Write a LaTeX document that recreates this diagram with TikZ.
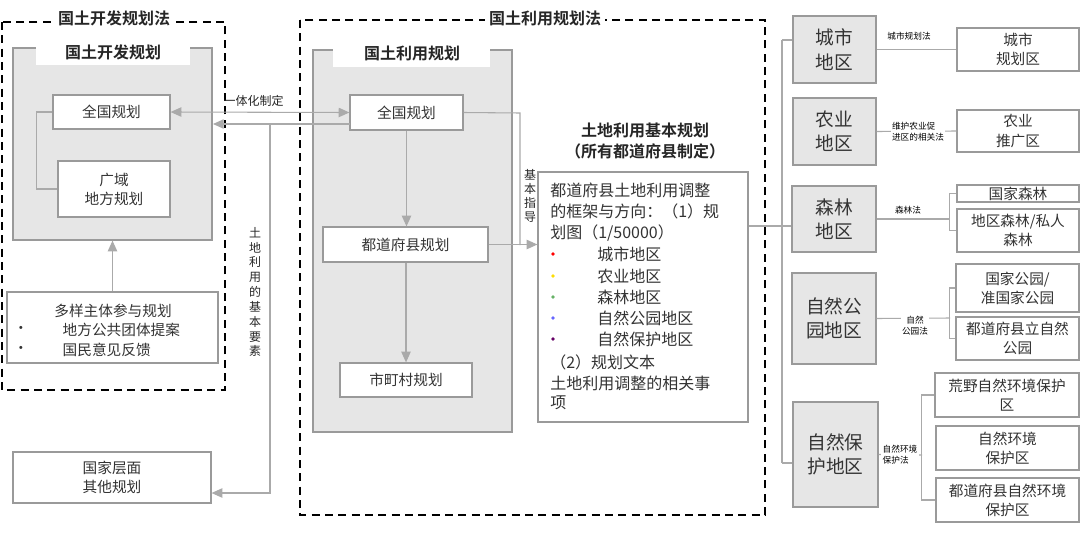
\documentclass[tikz,border=0pt]{standalone}
\usepackage{fontspec}
\setmainfont{Noto Sans CJK SC}
\newfontfamily\cjkb{Noto Sans CJK SC Bold}
\usetikzlibrary{arrows.meta}
\newcommand{\fsz}[1]{\fontsize{#1pt}{\the\dimexpr #1pt*13/10\relax}\selectfont}
\definecolor{lgray}{HTML}{E6E6E6}
\definecolor{lnc}{HTML}{AAAAAA}
\definecolor{bdc}{HTML}{9A9A9A}
\definecolor{txc}{HTML}{333333}
\begin{document}
\begin{tikzpicture}[x=0.75pt,y=-0.75pt,
  wbox/.style={draw=bdc, fill=white, line width=0.9pt, align=center, text=txc, inner sep=0pt, font=\fsz{11}},
  gbox/.style={draw=bdc, fill=lgray, line width=0.9pt, align=center, text=txc, inner sep=0pt},
  rgbox/.style={gbox, font=\fsz{14}},
  conn/.style={draw=lnc, line width=0.8pt},
  arr/.style={conn, -{Triangle[length=8pt,width=7pt,fill=lnc]}},
  dashbox/.style={draw=black, line width=1.6pt, dash pattern=on 6pt off 4pt},
  ttl/.style={fill=white, font=\cjkb\fsz{12}, text=black!85, inner sep=3pt},
  small/.style={font=\fsz{6.5}, text=black, align=left, inner sep=1pt},
  lbl/.style={font=\fsz{9}, text=black!85, inner sep=1pt},
  btxt/.style={anchor=west, text=txc, font=\fsz{12}, inner sep=0}]
\useasboundingbox (0,0) rectangle (1080,539);
\fill[white] (0,0) rectangle (1080,539);
% dashed frames
\draw[dashbox] (2,22) rectangle (225,390);
\draw[dashbox] (300,20) rectangle (765,515);
\node[ttl] (tleft) at (114,18) {国土开发规划法};
\node[ttl] (tright) at (545,18) {国土利用规划法};
% left gray box
\node[gbox, minimum width=199*0.75pt, minimum height=192*0.75pt] (kdg) at (112.5,144) {};
\fill[white] (36,47) rectangle (190,65);
\node[font=\cjkb\fsz{12}, text=black!85] (kdt) at (113,52) {国土开发规划};
\node[wbox, minimum width=117*0.75pt, minimum height=34*0.75pt] (lq) at (111.5,112) {全国规划};
\node[wbox, minimum width=112*0.75pt, minimum height=56*0.75pt] (lg) at (114,189) {广域\\地方规划};
\draw[conn] (lq.west) -- ++(-16,0) |- (lg.west);
\node[wbox, minimum width=211*0.75pt, minimum height=71*0.75pt] (dy) at (112.5,327.5) {};
\node[text=txc, font=\fsz{11}] at (113,311) {多样主体参与规划};
\node[text=txc, font=\fsz{11}, anchor=west] at (58,330) {地方公共团体提案};
\node[text=txc, font=\fsz{11}, anchor=west] at (58,350) {国民意见反馈};
\node[text=txc, font=\fsz{11}] at (21,330) {•};
\node[text=txc, font=\fsz{11}] at (21,350) {•};
\draw[arr] (dy.north -| kdg.south) -- (kdg.south);
\node[wbox, minimum width=198*0.75pt, minimum height=51*0.75pt] (gj) at (112,477.5) {国家层面\\其他规划};
% middle gray box
\node[gbox, minimum width=199*0.75pt, minimum height=382*0.75pt] (lyg) at (412.5,241) {};
\fill[white] (333,49) rectangle (490,67);
\node[font=\cjkb\fsz{12}, text=black!85] (lyt) at (412,53) {国土利用规划};
\node[wbox, minimum width=113*0.75pt, minimum height=35*0.75pt] (mq) at (406.5,112.5) {全国规划};
\node[wbox, minimum width=165*0.75pt, minimum height=35*0.75pt] (dd) at (405.5,244.5) {都道府县规划};
\node[wbox, minimum width=132*0.75pt, minimum height=34*0.75pt] (sc) at (406,380) {市町村规划};
\draw[arr] (mq.south) -- (mq.south |- dd.north);
\draw[arr] (dd.south -| sc.north) -- (sc.north);
% connections left-middle
\draw[conn, {Triangle[length=8pt,width=7pt,fill=lnc]}-{Triangle[length=8pt,width=7pt,fill=lnc]}] (lq.east) -- (mq.west);
\coordinate (lo) at (350,124);
\coordinate (lo2) at (213,124);
\coordinate (vb) at (270,493);
\draw[arr] (lo) -- (lo2);
\draw[arr] (270,124) -- (vb) -- (vb -| gj.east);
\node[lbl, anchor=south west] (yt) at (222,108) {一体化制定};
\node[lbl, align=center, text width=10pt, font=\fsz{9}\linespread{0.95}\selectfont] (tdy) at (255,292) {土\\地\\利\\用\\的\\基\\本\\要\\素};
% big text box
\node[font=\cjkb\fsz{12}, text=black!85, align=center] (bt) at (645,141) {土地利用基本规划\\（所有都道府县制定）};
\node[wbox, minimum width=210*0.75pt, minimum height=250*0.75pt] (big) at (643,297) {};
\draw[conn] (mq.east) -- (520,113) -- (520,245);
\draw[arr] (dd.east) -- (dd.east -| big.west);
\node[lbl, align=center, text width=10pt, font=\fsz{9}\linespread{0.9}\selectfont] (jbzd) at (530,196) {基\\本\\指\\导};
\node[btxt] (t1) at (550,190) {都道府县土地利用调整};
\node[btxt] (t2) at (550,211) {的框架与方向：（1）规};
\node[btxt] (t3) at (550,233) {划图（1/50000）};
\node[btxt] (t4) at (550,362) {（2）规划文本};
\node[btxt] (t5) at (550,383) {土地利用调整的相关事};
\node[btxt] (t6) at (550,403) {项};
\foreach \t/\y/\c in {城市地区/254/red, 农业地区/276/yellow!80!orange, 森林地区/297/green!50!black!60, 自然公园地区/318/blue!60, 自然保护地区/339/violet!80!black}{
  \node[btxt] at (597,\y) {\t};
  \fill[\c] (553,\y) circle (1.8);}
% right column
\node[rgbox, minimum width=83*0.75pt, minimum height=67*0.75pt] (cs) at (834.5,49.5) {城市\\地区};
\node[rgbox, minimum width=83*0.75pt, minimum height=67*0.75pt] (ny) at (834.5,131.5) {农业\\地区};
\node[rgbox, minimum width=84*0.75pt, minimum height=66*0.75pt] (sl) at (834,219) {森林\\地区};
\node[rgbox, minimum width=84*0.75pt, minimum height=91*0.75pt] (zg) at (834,318.5) {自然公\\园地区};
\node[rgbox, minimum width=85*0.75pt, minimum height=105*0.75pt] (zb) at (835.5,454.5) {自然保\\护地区};
\coordinate (trunk) at (782,226);
\coordinate (ttop) at (782,40);
\coordinate (tbot) at (782,463);
\draw[conn] (big.east |- trunk) -- (trunk);
\draw[conn] (ttop) -- (tbot);
\draw[conn] (ttop) -- (ttop -| cs.west);
\draw[conn] (tbot) -- (tbot -| zb.west);
\draw[conn] (trunk) -- (trunk -| sl.west);
\node[wbox, minimum width=122*0.75pt, minimum height=43*0.75pt] (csg) at (1018,49.5) {城市\\规划区};
\node[wbox, minimum width=122*0.75pt, minimum height=42*0.75pt] (nyt) at (1018,131) {农业\\推广区};
\node[wbox, minimum width=122*0.75pt, minimum height=17*0.75pt] (gjs) at (1018,193.5) {国家森林};
\node[wbox, minimum width=122*0.75pt, minimum height=43*0.75pt] (dqs) at (1018,230.5) {地区森林/私人\\森林};
\node[wbox, minimum width=123*0.75pt, minimum height=48*0.75pt] (gjg) at (1017.5,288) {国家公园/\\准国家公园};
\node[wbox, minimum width=123*0.75pt, minimum height=43*0.75pt] (ddg) at (1017.5,338.5) {都道府县立自然\\公园};
\node[wbox, minimum width=144*0.75pt, minimum height=44*0.75pt] (hy) at (1007,395) {荒野自然环境保护\\区};
\node[wbox, minimum width=143*0.75pt, minimum height=44*0.75pt] (zr) at (1007.5,448) {自然环境\\保护区};
\node[wbox, minimum width=143*0.75pt, minimum height=44*0.75pt] (ddz) at (1007.5,500) {都道府县自然环境\\保护区};
\coordinate (b1) at (950,219);
\coordinate (b2) at (950,318);
\coordinate (b3) at (922,455);
\draw[conn] (cs.east) -- (csg.west);
\draw[conn] (ny.east) -- (nyt.west);
\draw[conn] (sl.east) -- (b1);
\draw[conn] (gjs.west) -- ++(-7,0) |- (dqs.west);
\draw[conn] (zg.east) -- (b2);
\draw[conn] (gjg.west) -- ++(-6,0) |- (ddg.west);
\draw[conn] (zb.east) -- (b3);
\draw[conn] (hy.west) -- ++(-13,0) |- (ddz.west);
\node[small] (l1) at (909,36) {城市规划法};
\node[small, fill=white] (l2) at (918,132) {维护农业促\\进区的相关法};
\node[small] (l3) at (908,210) {森林法};
\node[small, fill=white, align=center] (l4) at (915,326) {自然\\公园法};
\node[small, fill=white] (l5) at (900,455) {自然环境\\保护法};
\end{tikzpicture}
\end{document}
